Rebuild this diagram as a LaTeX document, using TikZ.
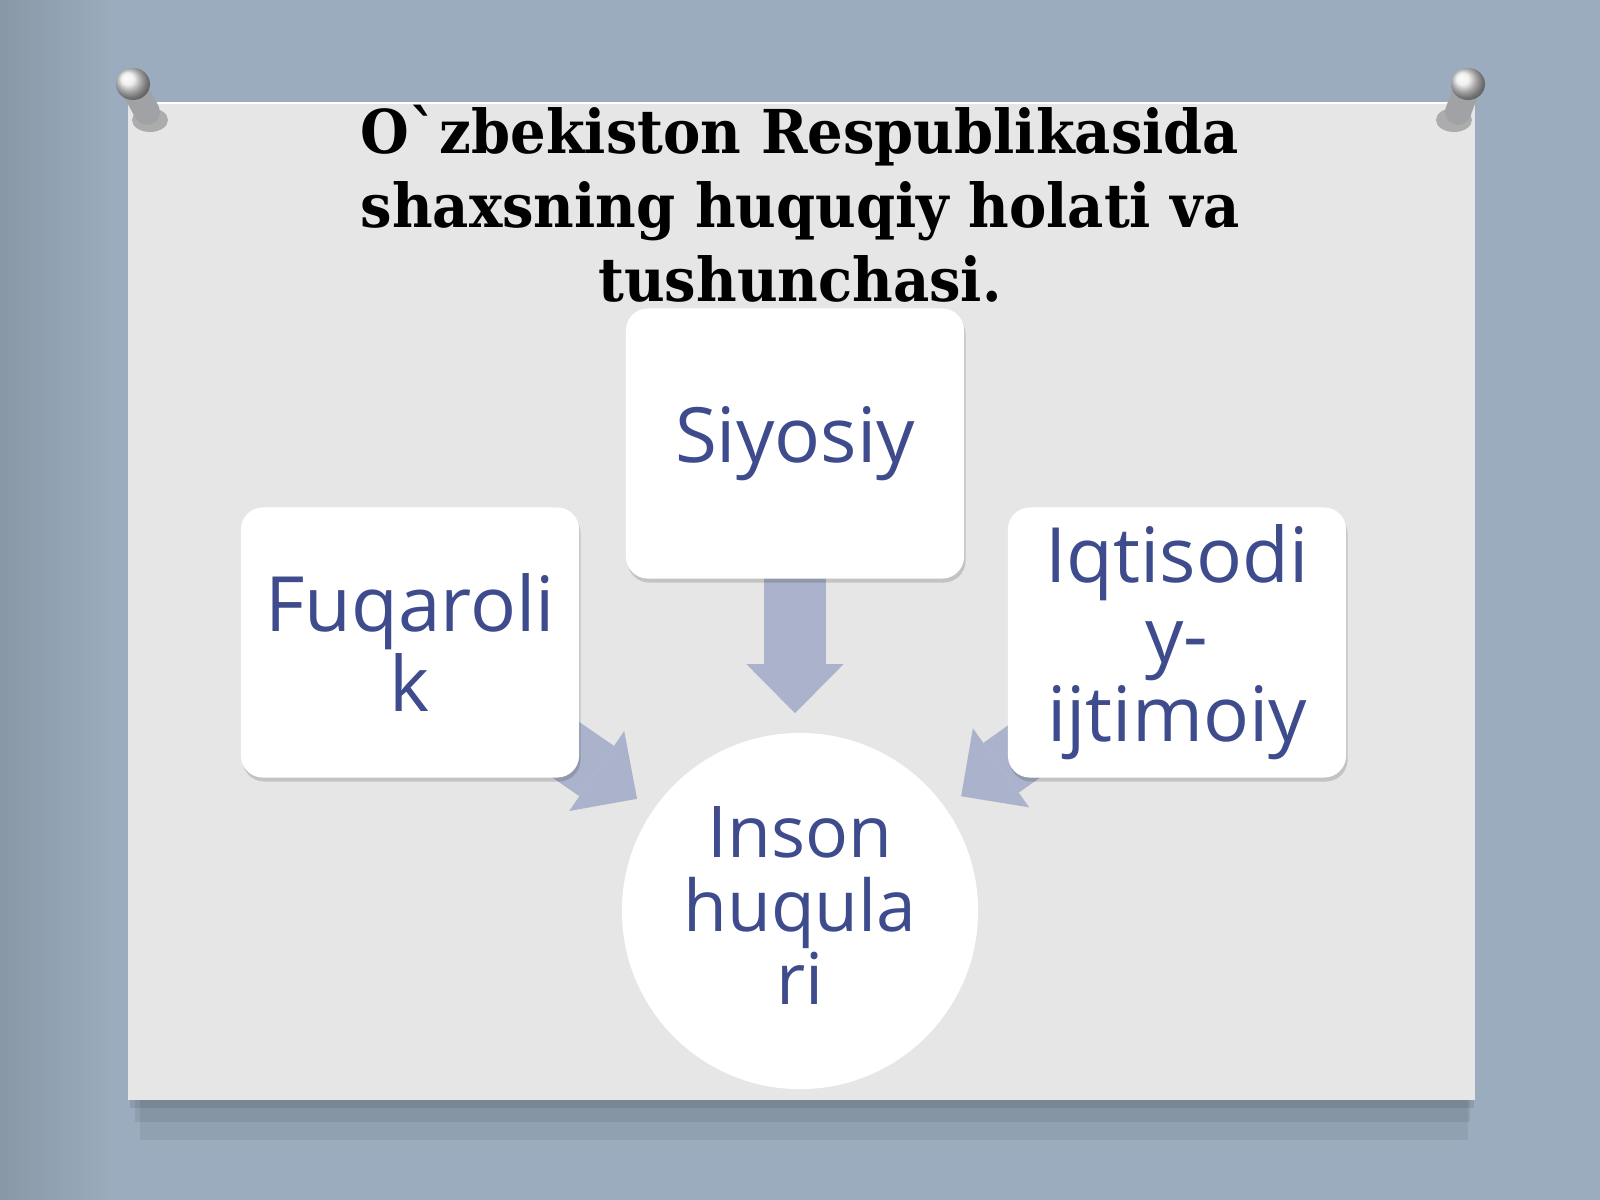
\documentclass[tikz,border=0pt]{standalone}
\usepackage{fontspec}
\setmainfont{Open Sans}
\newfontfamily\titlefont[FakeStretch=0.925]{DejaVu Serif}
\newfontfamily\boxfont{Open Sans}
\usetikzlibrary{shadows,arrows.meta,calc}
\definecolor{bgblue}{RGB}{154,172,189}
\definecolor{panelgray}{RGB}{229,230,229}
\definecolor{arrowblue}{RGB}{170,179,203}
\definecolor{textblue}{RGB}{62,75,140}
\definecolor{pinbody}{RGB}{160,162,165}
\begin{document}
\begin{tikzpicture}[x=0.01cm,y=-0.01cm,
  titleline/.style={anchor=base, inner sep=0pt, font=\titlefont\bfseries\fontsize{17.2}{21}\selectfont, text=black},
  box/.style={draw=none, fill=white, rounded corners=0.22cm, minimum width=3.38cm, minimum height=2.70cm,
    align=center, text=textblue, inner sep=0pt, font=\boxfont\fontsize{21.7}{22.6}\selectfont,
    drop shadow={shadow xshift=0.015cm, shadow yshift=-0.04cm, opacity=0.15, fill=black}},
  roundbox/.style={circle, draw=none, fill=white, minimum size=3.56cm, inner sep=0pt,
    align=center, text=textblue, font=\boxfont\fontsize{20.3}{20.9}\selectfont},
  blockarrow/.style={draw=arrowblue, line width=0.61cm,
    -{Triangle[width=0.97cm, length=0.49cm, line width=0pt]}, shorten >=0.19cm}
]
\useasboundingbox (0,0) rectangle (1600,1200);
% background
\fill[bgblue] (0,0) rectangle (1600,1200);
\shade[left color=black!25!bgblue, right color=bgblue, opacity=0.45] (0,0) rectangle (110,1200);
% panel shadow
\fill[black, opacity=0.06] (140,1100) rectangle (1468,1140);
\fill[black, opacity=0.07] (135,1100) rectangle (1470,1122);
\fill[black, opacity=0.09] (130,1100) rectangle (1474,1108);
% panel
\fill[panelgray] (128,102) rectangle (1475,1100);
\draw[white, line width=0.02cm] (128,103) -- (1475,103);
% pins
\fill[black, opacity=0.25] (150,120) ellipse (18 and 12);
\draw[pinbody, line width=0.26cm, line cap=round] (134,88) -- (147,112);
\shade[ball color=white!85!gray] (133,84) ellipse (17 and 16);
\fill[black, opacity=0.25] (1454,120) ellipse (18 and 12);
\draw[pinbody, line width=0.26cm, line cap=round] (1467,88) -- (1458,112);
\shade[ball color=white!85!gray] (1468,84) ellipse (17 and 16);
% title
\node[titleline] (t1) at (800,153) {O\textasciigrave zbekiston Respublikasida};
\node[titleline] (t2) at (800,227) {shaxsning huquqiy holati va};
\node[titleline] (t3) at (800,301) {tushunchasi.};
% node centres (boxes drawn over the arrows below)
\coordinate (siyc) at (795,443.5);
\coordinate (fuqc) at (410,642.5);
\coordinate (iqtc) at (1177,642.5);
\node[roundbox] (circ) at (800,911) {Inson\\huqula\\ri\rule[-0.1cm]{0pt}{0pt}};
% arrows
\draw[blockarrow] (siyc |- 0,578) -- (siyc |- circ.north);
\draw[blockarrow] (fuqc) -- (circ);
\draw[blockarrow] (iqtc) -- (circ);
% boxes
\node[box] (siy) at (siyc) {Siyosiy};
\node[box] (fuq) at (fuqc) {Fuqaroli\\k};
\node[box] (iqt) at (iqtc) {Iqtisodi\\y-\\ijtimoiy};
\end{tikzpicture}
\end{document}
